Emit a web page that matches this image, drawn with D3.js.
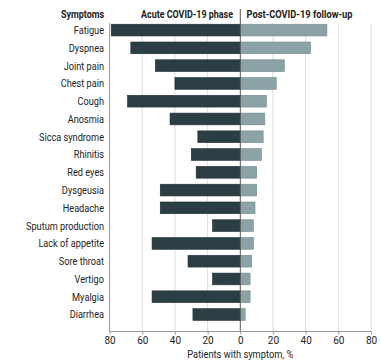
<!DOCTYPE html>
<html>
<head>
<meta charset="utf-8">
<script src="https://cdn.jsdelivr.net/npm/d3@7"></script>
<style>
  html, body { margin: 0; padding: 0; background: #fff; }
  svg text { font-family: Roboto, "DejaVu Sans Condensed", sans-serif; fill: #222; }
</style>
</head>
<body>
<svg id="chart" width="381" height="360"></svg>
<script>
// Symptom prevalence during the acute phase and at post-COVID-19 follow-up
const symptoms = ["Fatigue", "Dyspnea", "Joint pain", "Chest pain", "Cough", "Anosmia",
  "Sicca syndrome", "Rhinitis", "Red eyes", "Dysgeusia", "Headache", "Sputum production",
  "Lack of appetite", "Sore throat", "Vertigo", "Myalgia", "Diarrhea"];
const acutePhase = [79, 67, 52, 40, 69, 43, 26, 30, 27, 49, 49, 17, 54, 32, 17, 54, 29];
const followUp   = [53, 43, 27, 22, 16, 15, 14, 13, 10, 10, 9, 8, 8, 7, 6, 6, 3];
const tickValues = [-80, -60, -40, -20, 0, 20, 40, 60, 80];

const svg = d3.select("#chart");
const plotLeft = 109.6, plotRight = 371, plotTop = 21.2, plotBottom = 323.4, axisY = 331.5;

const x = d3.scaleLinear().domain([-80, 80]).range([plotLeft, plotRight]);
const y = d3.scaleBand().domain(symptoms).range([plotTop, plotBottom]).paddingInner(0.34).paddingOuter(0.17);

// squeeze text horizontally to a condensed look
function condense(sel, factor) {
  sel.each(function () {
    const w = this.getComputedTextLength();
    d3.select(this).attr("textLength", w * factor).attr("lengthAdjust", "spacingAndGlyphs");
  });
}
function fitWidth(sel, width) {
  sel.attr("textLength", width).attr("lengthAdjust", "spacingAndGlyphs");
}

// vertical gridlines
svg.append("g").selectAll("line")
  .data([-60, -40, -20, 20, 40, 60, 80])
  .join("line")
  .attr("x1", d => x(d)).attr("x2", d => x(d))
  .attr("y1", 23).attr("y2", axisY)
  .attr("stroke", "#dcdcdc").attr("stroke-width", 1);

// left vertical axis line
svg.append("line")
  .attr("x1", x(-80)).attr("x2", x(-80))
  .attr("y1", 23).attr("y2", axisY)
  .attr("stroke", "#9a9a9a").attr("stroke-width", 1);

// acute phase bars (left)
svg.append("g").selectAll("rect")
  .data(symptoms)
  .join("rect")
  .attr("x", (d, i) => x(-acutePhase[i]))
  .attr("width", (d, i) => x(0) - x(-acutePhase[i]))
  .attr("y", d => y(d))
  .attr("height", y.bandwidth())
  .attr("fill", "#2b3e43")
  .attr("stroke", "#1f2e32").attr("stroke-width", 0.6);

// follow-up bars (right)
svg.append("g").selectAll("rect")
  .data(symptoms)
  .join("rect")
  .attr("x", x(0))
  .attr("width", (d, i) => x(followUp[i]) - x(0))
  .attr("y", d => y(d))
  .attr("height", y.bandwidth())
  .attr("fill", "#8ba3a6")
  .attr("stroke", "#6f8a8d").attr("stroke-width", 0.6);

// zero line
svg.append("line")
  .attr("x1", x(0)).attr("x2", x(0))
  .attr("y1", 9).attr("y2", axisY)
  .attr("stroke", "#555").attr("stroke-width", 1);

// category labels
const catLabels = svg.append("g").selectAll("text")
  .data(symptoms)
  .join("text")
  .attr("x", 104)
  .attr("y", d => y(d) + y.bandwidth() / 2)
  .attr("dy", "0.36em")
  .attr("text-anchor", "end")
  .attr("font-size", 11)
  .text(d => d);
const sputum = catLabels.filter(d => d === "Sputum production").node();
const catFactor = 78 / sputum.getComputedTextLength();
condense(catLabels, catFactor);

// bottom axis
const xAxis = d3.axisBottom(x)
  .tickValues(tickValues)
  .tickSize(3)
  .tickPadding(2.5)
  .tickFormat(d => Math.abs(d));
const gx = svg.append("g").attr("transform", `translate(0,${axisY})`).call(xAxis);
gx.select(".domain").attr("stroke", "#9a9a9a").attr("d", `M${plotLeft},0H${plotRight}`);
gx.selectAll(".tick line").attr("stroke", "#9a9a9a");
const tickText = gx.selectAll(".tick text")
  .attr("font-size", 10.5)
  .attr("font-family", "Roboto, \"DejaVu Sans Condensed\", sans-serif")
  .attr("fill", "#222");
condense(tickText, 0.95);

// axis title
svg.append("text")
  .attr("x", x(0)).attr("y", 357.5)
  .attr("text-anchor", "middle")
  .attr("font-size", 10.5)
  .text("Patients with symptom, %")
  .call(fitWidth, 106);

// column headers
svg.append("text").attr("x", 104).attr("y", 17.5)
  .attr("text-anchor", "end").attr("font-size", 11).attr("font-weight", "bold")
  .text("Symptoms").call(fitWidth, 43);
svg.append("text").attr("x", 233).attr("y", 17.5)
  .attr("text-anchor", "end").attr("font-size", 11).attr("font-weight", "bold")
  .text("Acute COVID-19 phase").call(fitWidth, 92);
svg.append("text").attr("x", 246.5).attr("y", 17.5)
  .attr("text-anchor", "start").attr("font-size", 11).attr("font-weight", "bold")
  .text("Post-COVID-19 follow-up").call(fitWidth, 106);
</script>
</body>
</html>
